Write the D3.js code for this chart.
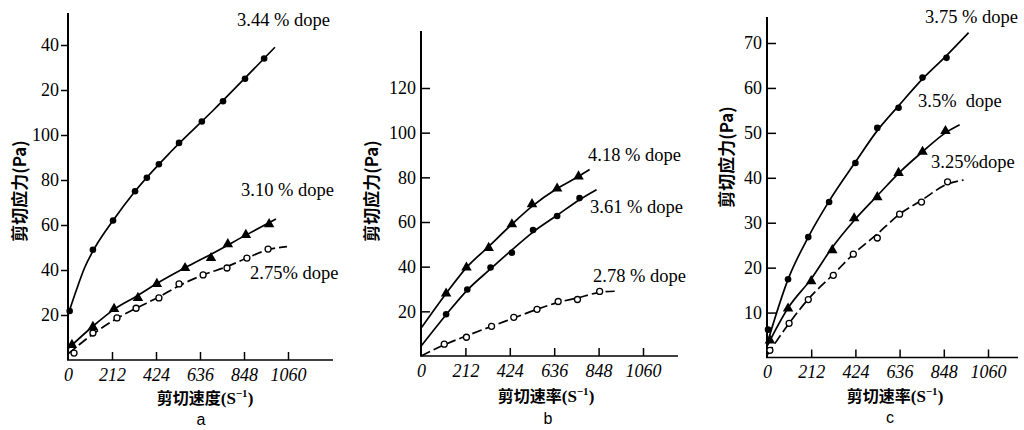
<!DOCTYPE html>
<html><head><meta charset="utf-8">
<script src="https://cdn.jsdelivr.net/npm/d3@7"></script>
<style>body{margin:0;background:#fff}svg{display:block}</style>
</head><body>
<svg id="chart" width="1024" height="430"></svg>
<script>
// ---------- tick data ----------
const xTicks = [0, 212, 424, 636, 848, 1060];
const xTickLabels = ["0", "212", "424", "636", "848", "1060"];
const aYTicks = [20, 40, 60, 80, 100, 120, 140];
const aYTickLabels = ["20", "40", "60", "80", "100", "20", "40"];
const bYTicks = [20, 40, 60, 80, 100, 120];
const bYTickLabels = ["20", "40", "60", "80", "100", "120"];
const cYTicks = [10, 20, 30, 40, 50, 60, 70];
const cYTickLabels = ["10", "20", "30", "40", "50", "60", "70"];

// ---------- panel a ----------
const a344X = [8, 120, 217, 323, 380, 438, 535, 645, 747, 853, 945];
const a344Y = [21.8, 49, 62, 75, 81, 87, 96.5, 106, 115, 125, 134];
const a344FitX = [0, 40, 80, 130, 217, 323, 500, 700, 997];
const a344FitY = [20, 31, 41, 50, 62, 75, 93, 111, 139];

const a310X = [19, 120, 222, 337, 428, 564, 689, 770, 857, 969];
const a310Y = [6.7, 14.7, 22.7, 27.6, 33.8, 40.9, 45.3, 51.5, 55.6, 60.4];
const a310FitX = [0, 120, 222, 337, 428, 564, 689, 857, 1002];
const a310FitY = [5, 15, 22.5, 28.7, 34, 41, 47, 55.5, 62.7];

const a275X = [29, 120, 236, 328, 438, 535, 651, 766, 862, 964];
const a275Y = [3.1, 12, 18.7, 23, 27.6, 33.8, 37.8, 40.9, 45.3, 49.3];
const a275FitX = [0, 120, 236, 328, 438, 535, 651, 766, 862, 964, 1055];
const a275FitY = [2.7, 11.5, 18.5, 23, 28, 33, 37.8, 41.5, 45.3, 49, 50.4];

// ---------- panel b ----------
const b418X = [120, 217, 323, 434, 530, 650, 752];
const b418Y = [28, 39.6, 48.4, 59, 68, 75, 80.4];
const b418FitX = [0, 120, 217, 323, 434, 530, 650, 752, 805];
const b418FitY = [12.4, 28, 39.6, 49, 59, 67, 75, 80.4, 83.5];

const b361X = [120, 221, 332, 434, 535, 650, 757];
const b361Y = [18.7, 29.8, 39.6, 46.2, 56.4, 62.7, 70.7];
const b361FitX = [0, 120, 221, 332, 434, 535, 650, 757, 838];
const b361FitY = [4.4, 18.5, 29.5, 39, 47.5, 55.5, 63, 70, 74.5];

const b278X = [111, 217, 337, 443, 554, 655, 747, 853];
const b278Y = [5.3, 8.4, 13.3, 17.3, 20.9, 24.4, 25.3, 28.9];
const b278FitX = [0, 111, 217, 337, 443, 554, 655, 747, 853, 925];
const b278FitY = [0, 5, 9, 13.3, 17, 20.9, 24, 26, 28.5, 29];

// ---------- panel c ----------
const c375X = [5, 101, 198, 298, 424, 529, 631, 746, 861];
const c375Y = [6.2, 17.4, 26.8, 34.6, 43.3, 51.1, 55.6, 62.3, 66.7];
const c375FitX = [0, 101, 198, 298, 424, 529, 631, 746, 861, 967];
const c375FitY = [3, 17.4, 26.8, 34.8, 43.5, 50.5, 56, 62, 67.2, 72.3];

const c350X = [14, 101, 212, 313, 418, 529, 631, 746, 856];
const c350Y = [3.8, 10.9, 17, 23.9, 31, 35.7, 41.1, 45.8, 50.4];
const c350FitX = [0, 101, 212, 313, 418, 529, 631, 746, 856, 924];
const c350FitY = [2.5, 11, 17.5, 24.5, 30.5, 36, 41, 45.8, 50, 51.8];

const c325X = [14, 106, 198, 318, 414, 529, 636, 741, 866];
const c325Y = [1.6, 7.6, 12.9, 18.3, 23, 26.6, 31.9, 34.6, 39.1];
const c325FitX = [0, 106, 198, 318, 414, 529, 636, 741, 866, 943];
const c325FitY = [0.5, 7.6, 13, 18.5, 23, 27.5, 31.9, 35, 38.6, 39.5];

// ---------- texts ----------
const yTitle = "剪切应力(Pa)";
const xTitleA = "剪切速度";
const xTitleBC = "剪切速率";
const panelLetters = ["a", "b", "c"];
const seriesLabels = {
  a: ["3.44 % dope", "3.10 % dope", "2.75% dope"],
  b: ["4.18 % dope", "3.61 % dope", "2.78 % dope"],
  c: ["3.75 % dope", "3.5%  dope", "3.25%dope"]
};

// ---------- drawing ----------
const svg = d3.select("#chart");
const SERIF = "'Liberation Serif','DejaVu Serif',serif";
const CJK = "'Noto Sans CJK SC','Noto Sans CJK JP',sans-serif";

function zip(xs, ys) { return xs.map((x, i) => [x, ys[i]]); }

const panels = [
  { key: "a", xr: [68, 288], yDom: [0, 140], yr: [360, 45], xEnd: 333, yTop: 13,
    yTicks: aYTicks, yLabels: aYTickLabels, tickOut: true, xTitle: xTitleA,
    yTitlePos: [20, 191], xTitlePos: [205, 404], letterPos: [201, 425],
    labelPos: [[237, 26], [241, 196], [250, 279]],
    series: [
      { pts: zip(a344X, a344Y), fit: zip(a344FitX, a344FitY), m: "dot", dash: false },
      { pts: zip(a310X, a310Y), fit: zip(a310FitX, a310FitY), m: "tri", dash: false },
      { pts: zip(a275X, a275Y), fit: zip(a275FitX, a275FitY), m: "ring", dash: true }
    ] },
  { key: "b", xr: [421, 643], yDom: [0, 120], yr: [356, 88], xEnd: 678, yTop: 31,
    yTicks: bYTicks, yLabels: bYTickLabels, tickOut: false, xTitle: xTitleBC,
    yTitlePos: [372, 191], xTitlePos: [546, 402], letterPos: [548, 424],
    labelPos: [[588, 161], [590, 213], [593, 282]],
    series: [
      { pts: zip(b418X, b418Y), fit: zip(b418FitX, b418FitY), m: "tri", dash: false },
      { pts: zip(b361X, b361Y), fit: zip(b361FitX, b361FitY), m: "dot", dash: false },
      { pts: zip(b278X, b278Y), fit: zip(b278FitX, b278FitY), m: "ring", dash: true }
    ] },
  { key: "c", xr: [767, 988], yDom: [0, 70], yr: [357.5, 43], xEnd: 1018, yTop: 17,
    yTicks: cYTicks, yLabels: cYTickLabels, tickOut: false, xTitle: xTitleBC,
    yTitlePos: [727, 157], xTitlePos: [895, 402], letterPos: [890, 423],
    labelPos: [[925, 23], [918, 107], [931, 168]],
    series: [
      { pts: zip(c375X, c375Y), fit: zip(c375FitX, c375FitY), m: "dot", dash: false },
      { pts: zip(c350X, c350Y), fit: zip(c350FitX, c350FitY), m: "tri", dash: false },
      { pts: zip(c325X, c325Y), fit: zip(c325FitX, c325FitY), m: "ring", dash: true }
    ] }
];

panels.forEach((p, pi) => {
  const x = d3.scaleLinear().domain([0, 1060]).range(p.xr);
  const y = d3.scaleLinear().domain(p.yDom).range(p.yr);
  const g = svg.append("g");
  const x0 = x(0), yb = y(0);

  // axis lines
  g.append("line").attr("x1", x0).attr("x2", x0).attr("y1", p.yTop).attr("y2", yb)
    .attr("stroke", "#000").attr("stroke-width", 2);
  g.append("line").attr("x1", x0 - 1).attr("x2", p.xEnd).attr("y1", yb).attr("y2", yb)
    .attr("stroke", "#000").attr("stroke-width", 1.6);

  // x axis ticks (pointing up)
  const xa = d3.axisBottom(x).tickValues(xTicks)
    .tickFormat((d, i) => xTickLabels[i]).tickSizeInner(-8).tickSizeOuter(0).tickPadding(8);
  const gx = g.append("g").attr("transform", `translate(0,${yb})`).call(xa);
  gx.select(".domain").remove();
  gx.selectAll(".tick line").attr("stroke-width", 1.5).filter(d => d === 0).remove();
  gx.selectAll("text").attr("font-family", SERIF).attr("font-style", "italic")
    .attr("font-size", 18).attr("fill", "#000");

  // y axis ticks
  const ya = d3.axisLeft(y).tickValues(p.yTicks)
    .tickFormat((d, i) => p.yLabels[i]).tickSizeOuter(0)
    .tickSizeInner(p.tickOut ? 7 : -9).tickPadding(p.tickOut ? 2 : 5);
  const gy = g.append("g").attr("transform", `translate(${x0},0)`).call(ya);
  gy.select(".domain").remove();
  gy.selectAll(".tick line").attr("stroke-width", 1.5);
  gy.selectAll("text").attr("font-family", SERIF).attr("font-size", 18).attr("fill", "#000");

  // series
  const line = d3.line().x(d => x(d[0])).y(d => y(d[1])).curve(d3.curveMonotoneX);
  p.series.forEach(s => {
    g.append("path").attr("d", line(s.fit)).attr("fill", "none")
      .attr("stroke", "#000").attr("stroke-width", 1.7)
      .attr("stroke-dasharray", s.dash ? "10,4" : null);
    const mk = g.append("g");
    if (s.m === "dot") {
      mk.selectAll("circle").data(s.pts).join("circle")
        .attr("cx", d => x(d[0])).attr("cy", d => y(d[1])).attr("r", 3.3).attr("fill", "#000");
    } else if (s.m === "ring") {
      mk.selectAll("circle").data(s.pts).join("circle")
        .attr("cx", d => x(d[0])).attr("cy", d => y(d[1])).attr("r", 3)
        .attr("fill", "#fff").attr("stroke", "#000").attr("stroke-width", 1.3);
    } else {
      const sym = d3.symbol(d3.symbolTriangle, 48);
      mk.selectAll("path").data(s.pts).join("path").attr("d", sym())
        .attr("transform", d => `translate(${x(d[0])},${y(d[1])})`).attr("fill", "#000");
    }
  });

  // series labels
  seriesLabels[p.key].forEach((t, i) => {
    g.append("text").attr("x", p.labelPos[i][0]).attr("y", p.labelPos[i][1])
      .attr("font-family", SERIF).attr("font-size", 18.5).attr("fill", "#000")
      .style("white-space", "pre").text(t);
  });

  // y title
  g.append("text").attr("transform", `translate(${p.yTitlePos[0]},${p.yTitlePos[1]}) rotate(-90)`)
    .attr("text-anchor", "middle").attr("dy", "0.35em")
    .attr("font-family", CJK).attr("font-weight", 700).attr("font-size", 17).attr("fill", "#000")
    .text(yTitle);

  // x title with superscript
  const xt = g.append("text").attr("x", p.xTitlePos[0]).attr("y", p.xTitlePos[1])
    .attr("text-anchor", "middle").attr("font-weight", 700).attr("fill", "#000");
  xt.append("tspan").attr("font-family", CJK).attr("font-size", 16).text(p.xTitle);
  xt.append("tspan").attr("font-family", SERIF).attr("font-size", 17).text("(S");
  xt.append("tspan").attr("font-family", SERIF).attr("font-size", 11).attr("dy", -7).text("−1");
  xt.append("tspan").attr("font-family", SERIF).attr("font-size", 17).attr("dy", 7).text(")");

  // panel letter
  g.append("text").attr("x", p.letterPos[0]).attr("y", p.letterPos[1])
    .attr("text-anchor", "middle").attr("font-family", "'Liberation Sans',Arial,sans-serif")
    .attr("font-size", 16).attr("fill", "#000").text(panelLetters[pi]);
});
</script>
</body></html>
